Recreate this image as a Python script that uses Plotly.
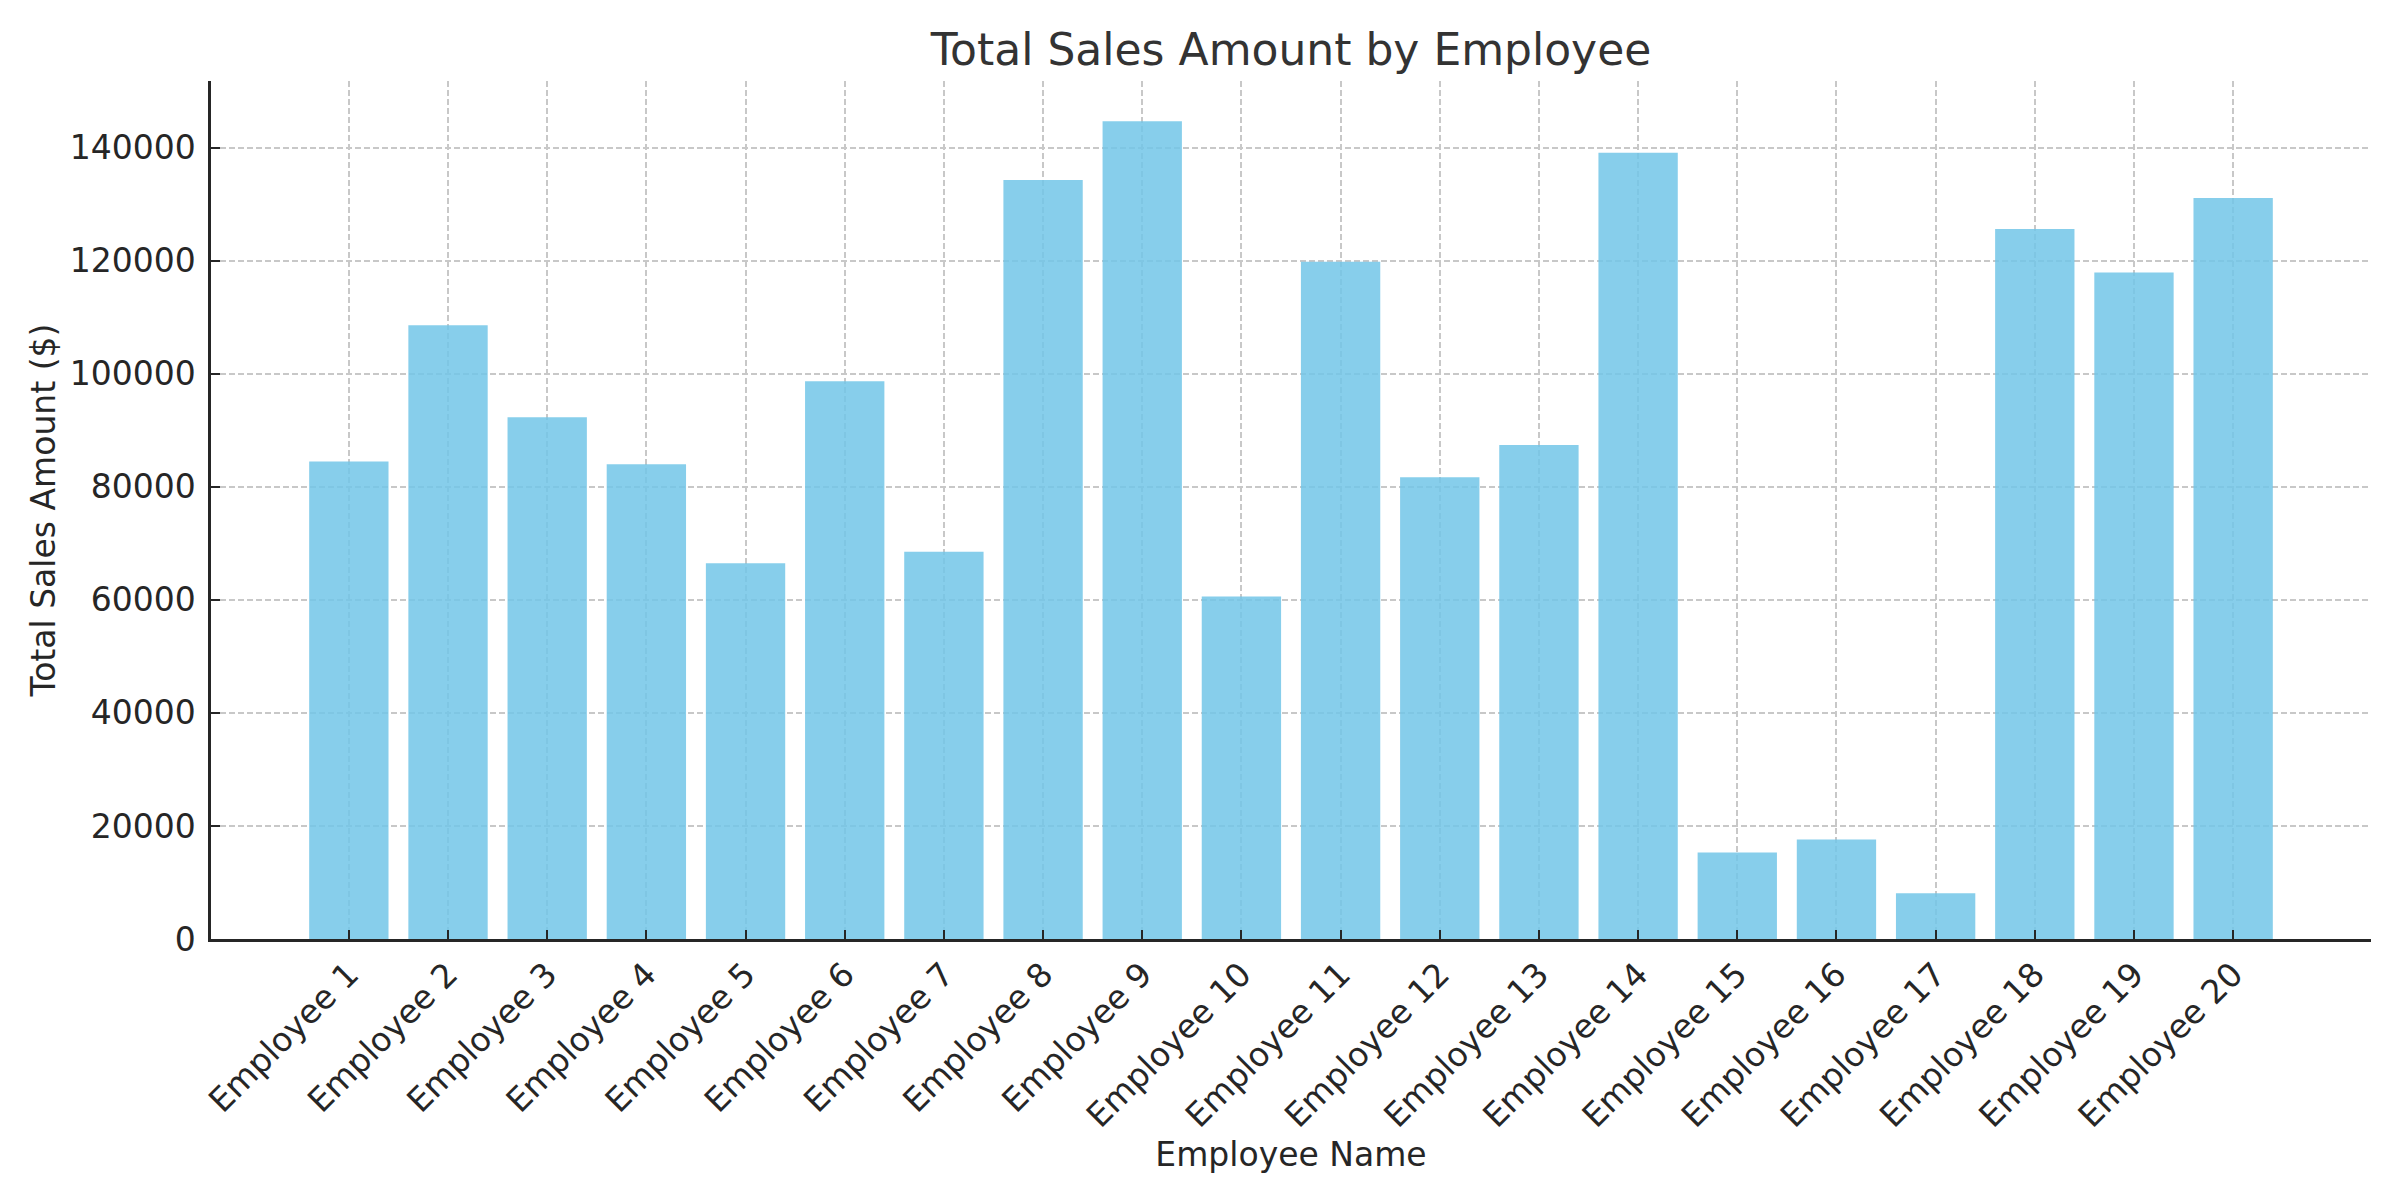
import plotly.graph_objects as go

employees = [f"Employee {i}" for i in range(1, 21)]
sales = [84500, 108600, 92300, 84000, 66500, 98700, 68500, 134300, 144700, 60600,
         119800, 81700, 87400, 139100, 15300, 17600, 8100, 125600, 117900, 131100]
y_ticks = [0, 20000, 40000, 60000, 80000, 100000, 120000, 140000]

FONT = "DejaVu Sans"
TXT = "#262626"

# semi-transparent bar so the dashed grid shows through (as in the reference,
# where the grid is drawn above the bars); composite over white == #87CEEB
fig = go.Figure(
    go.Bar(x=list(range(len(employees))), y=sales, marker_color="rgb(114,197,231)",
           marker_opacity=0.85, marker_line_width=0, width=0.8)
)

fig.update_layout(
    width=2400, height=1200,
    margin=dict(l=211, r=29, t=81, b=261),
    paper_bgcolor="white", plot_bgcolor="white",
    font=dict(family=FONT, size=33, color=TXT),
    showlegend=False,
    title=dict(text="Total Sales Amount by Employee", x=0.5, xref="paper",
               y=1 - 50 / 1200, yref="container", yanchor="middle", xanchor="center",
               font=dict(family=FONT, size=44, color="#333333")),
    bargap=0.2,
)

fig.update_xaxes(
    tickmode="array", tickvals=list(range(len(employees))), ticktext=employees,
    range=[-1.39, 20.39], tickangle=-45,
    showline=True, linecolor="#262626", linewidth=2.5, mirror=False,
    ticks="inside", ticklen=9, tickwidth=2, tickcolor="#262626",
    showgrid=True, gridcolor="#c8c8c8", gridwidth=1.5, griddash="6px,3px",
    zeroline=False,
    title=dict(text="Employee Name", standoff=6, font=dict(size=33, color=TXT)),
    tickfont=dict(size=33, color=TXT),
)

fig.update_yaxes(
    range=[0, 151800], tickmode="array", tickvals=y_ticks,
    ticktext=[str(v) for v in y_ticks],
    showline=True, linecolor="#262626", linewidth=2.5,
    ticks="inside", ticklen=9, tickwidth=2, tickcolor="#262626",
    showgrid=True, gridcolor="#c8c8c8", gridwidth=1.5, griddash="6px,3px",
    zeroline=False,
    title=dict(text="Total Sales Amount ($)", standoff=5, font=dict(size=33, color=TXT)),
    tickfont=dict(size=33, color=TXT),
    ticklabelstandoff=6,
)

fig.write_html("out.html")
